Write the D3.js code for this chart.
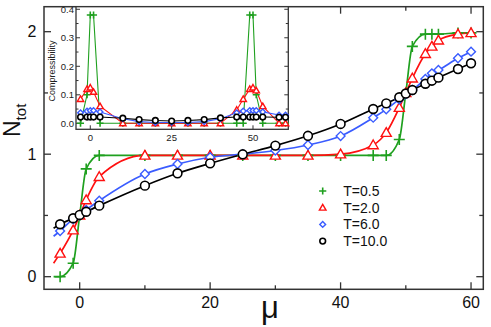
<!DOCTYPE html>
<html>
<head>
<meta charset="utf-8">
<script src="https://cdn.jsdelivr.net/npm/d3@7"></script>
<style>
  html, body { margin: 0; padding: 0; background: #fff; }
  svg { display: block; font-family: "Liberation Sans", Arial, Helvetica, sans-serif; }
</style>
</head>
<body>
<div id="chart"></div>
<script>
// N_tot vs mu at four temperatures, with compressibility inset.

const MU = [-3, -1, 0, 1, 3, 10, 15, 20, 25, 30, 35, 40, 45, 47, 49, 50, 51, 53, 54, 55, 58, 60];

const N_T05  = [0.0, 0.11, 0.5, 0.88, 0.99, 0.99, 0.99, 0.99, 0.99, 0.99, 0.99, 0.99, 0.99, 0.99, 1.12, 1.5, 1.88, 1.98, 1.98, 1.98, 1.99, 1.99];
const N_T20  = [0.19, 0.38, 0.5, 0.626, 0.816, 0.99, 0.99, 0.99, 0.99, 0.99, 0.99, 1.0, 1.075, 1.176, 1.38, 1.5, 1.62, 1.82, 1.88, 1.93, 1.98, 1.99];
const N_T60  = [0.373, 0.47, 0.5, 0.545, 0.62, 0.838, 0.92, 0.975, 1.0, 1.03, 1.075, 1.148, 1.298, 1.366, 1.448, 1.49, 1.524, 1.614, 1.66, 1.687, 1.783, 1.837];
const N_T100 = [0.428, 0.477, 0.504, 0.53, 0.58, 0.743, 0.844, 0.925, 0.999, 1.07, 1.15, 1.247, 1.369, 1.415, 1.465, 1.495, 1.524, 1.575, 1.6, 1.625, 1.695, 1.742];

// where the fitted curves begin, left of the first marker
const CURVE_START_MU = -4;
const CURVE_START_N = [0.0, 0.11, 0.33, 0.395];

const INSET_MU = [-3, -1, 0, 1, 3, 10, 15, 20, 25, 30, 35, 40, 45, 47, 49, 50, 51, 53, 58, 60];
const K_T05  = [0.0, 0.1, 0.38, 0.38, 0.0, 0.0, 0.0, 0.0, 0.0, 0.0, 0.0, 0.0, 0.0, 0.0, 0.38, 0.38, 0.1, 0.0, 0.0, 0.0];
const K_T20  = [0.085, 0.12, 0.125, 0.11, 0.06, 0.0, 0.0, 0.0, 0.0, 0.0, 0.0, 0.0, 0.047, 0.085, 0.12, 0.125, 0.115, 0.06, 0.0, 0.0];
const K_T60  = [0.037, 0.043, 0.045, 0.045, 0.04, 0.016, 0.006, 0.003, 0.003, 0.003, 0.006, 0.016, 0.037, 0.043, 0.045, 0.045, 0.045, 0.04, 0.029, 0.029];
const K_T100 = [0.022, 0.022, 0.022, 0.022, 0.022, 0.018, 0.013, 0.01, 0.008, 0.01, 0.013, 0.019, 0.022, 0.022, 0.022, 0.022, 0.022, 0.022, 0.021, 0.021];

const SERIES = [
  { label: "T=0.5",  color: "#1fa01f", symbol: "cross",    n: N_T05,  k: K_T05 },
  { label: "T=2.0",  color: "#ff1010", symbol: "triangle", n: N_T20,  k: K_T20 },
  { label: "T=6.0",  color: "#3a5cff", symbol: "diamond",  n: N_T60,  k: K_T60 },
  { label: "T=10.0", color: "#000000", symbol: "circle",   n: N_T100, k: K_T100 },
];

const X_TICKS = [0, 20, 40, 60];
const Y_TICKS = [0, 1, 2];
const INSET_X_TICKS = [0, 25, 50];
const INSET_Y_TICKS = [0, 0.1, 0.2, 0.3, 0.4];

// ── Layout ───────────────────────────────────────────────────────────────────

const W = 491, H = 327;
const M = { left: 44, right: 483.3, top: 6.7, bottom: 289.3 };
const IN = { left: 76, right: 288.3, top: 6.7, bottom: 129.3 };

const x = d3.scaleLinear().domain([-5.47, 61.88]).range([M.left, M.right]);
const y = d3.scaleLinear().domain([-0.103, 2.204]).range([M.bottom, M.top]);
const ix = d3.scaleLinear().domain([-4.39, 60.85]).range([IN.left, IN.right]);
const iy = d3.scaleLinear().domain([-0.021, 0.409]).range([IN.bottom, IN.top]);

const svg = d3.select("#chart").append("svg").attr("width", W).attr("height", H);

svg.append("defs").append("clipPath").attr("id", "main-clip")
  .append("rect").attr("x", M.left).attr("y", M.top)
  .attr("width", M.right - M.left).attr("height", M.bottom - M.top);

// marker drawing: hollow symbols with white fill
function marker(sel, kind, color, s) {
  if (kind === "cross") {
    sel.append("path")
      .attr("d", `M${-s},0H${s}M0,${-s}V${s}`)
      .attr("stroke", color).attr("stroke-width", 1.6).attr("fill", "none");
  } else if (kind === "triangle") {
    sel.append("path")
      .attr("d", d3.symbol(d3.symbolTriangle, s * s * 1.45)())
      .attr("transform", `translate(0,${s * 0.15})`)
      .attr("stroke", color).attr("stroke-width", 1.4).attr("fill", "#fff");
  } else if (kind === "diamond") {
    sel.append("path")
      .attr("d", d3.symbol(d3.symbolSquare, s * s * 1.3)())
      .attr("transform", "rotate(45)")
      .attr("stroke", color).attr("stroke-width", 1.4).attr("fill", "#fff");
  } else {
    sel.append("circle").attr("r", s * 0.8)
      .attr("stroke", color).attr("stroke-width", 1.6).attr("fill", "#fff");
  }
}

// ── Main axes ────────────────────────────────────────────────────────────────

const axisColor = "#333";
const frame = svg.append("g");
frame.append("rect")
  .attr("x", M.left).attr("y", M.top)
  .attr("width", M.right - M.left).attr("height", M.bottom - M.top)
  .attr("fill", "none").attr("stroke", axisColor).attr("stroke-width", 1.5);

d3.range(0, 61, 10).forEach(v => {
  const len = v % 20 === 0 ? 7 : 4;
  frame.append("line").attr("x1", x(v)).attr("x2", x(v))
    .attr("y1", M.bottom).attr("y2", M.bottom - len).attr("stroke", axisColor).attr("stroke-width", 1.3);
  frame.append("line").attr("x1", x(v)).attr("x2", x(v))
    .attr("y1", M.top).attr("y2", M.top + len).attr("stroke", axisColor).attr("stroke-width", 1.3);
});
d3.range(0, 2.01, 0.5).forEach(v => {
  const len = Number.isInteger(v) ? 7 : 4;
  frame.append("line").attr("x1", M.left).attr("x2", M.left + len)
    .attr("y1", y(v)).attr("y2", y(v)).attr("stroke", axisColor).attr("stroke-width", 1.3);
  frame.append("line").attr("x1", M.right).attr("x2", M.right - len)
    .attr("y1", y(v)).attr("y2", y(v)).attr("stroke", axisColor).attr("stroke-width", 1.3);
});

frame.selectAll(".xt").data(X_TICKS).join("text")
  .attr("x", d => x(d)).attr("y", 308).attr("text-anchor", "middle")
  .style("font-size", "16px").style("fill", "#111").text(d => d);
frame.selectAll(".yt").data(Y_TICKS).join("text")
  .attr("x", 36.5).attr("y", d => y(d)).attr("dy", "0.36em").attr("text-anchor", "end")
  .style("font-size", "16px").style("fill", "#111").text(d => d);

svg.append("text").attr("x", 270).attr("y", 318).attr("text-anchor", "middle")
  .style("font-size", "31px").style("fill", "#111").text("μ");

const ylab = svg.append("text").attr("transform", "translate(20,137) rotate(-90)")
  .style("font-size", "23px").style("fill", "#111");
ylab.append("tspan").text("N");
ylab.append("tspan").attr("dy", 6).style("font-size", "15px").text("tot");

// ── Main curves and markers ──────────────────────────────────────────────────

const plot = svg.append("g").attr("clip-path", "url(#main-clip)");
const line = d3.line().x(d => x(d[0])).y(d => y(d[1])).curve(d3.curveMonotoneX);

SERIES.forEach((s, i) => {
  const pts = [[CURVE_START_MU, CURVE_START_N[i]], ...MU.map((m, j) => [m, s.n[j]])];
  plot.append("path").attr("d", line(pts))
    .attr("fill", "none").attr("stroke", s.color).attr("stroke-width", 1.7);
});
SERIES.forEach(s => {
  MU.forEach((m, j) => {
    const g = plot.append("g").attr("transform", `translate(${x(m)},${y(s.n[j])})`);
    marker(g, s.symbol, s.color, 5.5);
  });
});

// ── Legend ───────────────────────────────────────────────────────────────────

SERIES.forEach((s, i) => {
  const cy = 191 + i * 16.7;
  const g = svg.append("g").attr("transform", `translate(322.7,${cy})`);
  marker(g, s.symbol, s.color, 3.6);
  svg.append("text").attr("x", 343.3).attr("y", cy).attr("dy", "0.36em")
    .style("font-size", "14px").style("fill", "#111").text(s.label);
});

// ── Inset ────────────────────────────────────────────────────────────────────

const inset = svg.append("g");
inset.append("rect")
  .attr("x", IN.left).attr("y", IN.top)
  .attr("width", IN.right - IN.left).attr("height", IN.bottom - IN.top)
  .attr("fill", "#fff").attr("stroke", axisColor).attr("stroke-width", 1.3);

d3.range(0, 0.401, 0.05).forEach((v, i) => {
  const len = i % 2 === 0 ? 4 : 2.5;
  inset.append("line").attr("x1", IN.left).attr("x2", IN.left + len)
    .attr("y1", iy(v)).attr("y2", iy(v)).attr("stroke", axisColor).attr("stroke-width", 1);
  inset.append("line").attr("x1", IN.right).attr("x2", IN.right - len)
    .attr("y1", iy(v)).attr("y2", iy(v)).attr("stroke", axisColor).attr("stroke-width", 1);
});
INSET_X_TICKS.forEach(v => {
  inset.append("line").attr("x1", ix(v)).attr("x2", ix(v))
    .attr("y1", IN.bottom).attr("y2", IN.bottom - 4).attr("stroke", axisColor).attr("stroke-width", 1);
});

inset.selectAll(".ixt").data(INSET_X_TICKS).join("text")
  .attr("x", d => ix(d)).attr("y", 140.5).attr("text-anchor", "middle")
  .style("font-size", "9.5px").style("fill", "#222").text(d => d);
inset.selectAll(".iyt").data(INSET_Y_TICKS).join("text")
  .attr("x", 74).attr("y", d => iy(d)).attr("dy", "0.36em").attr("text-anchor", "end")
  .style("font-size", "9.5px").style("fill", "#222").text(d => d3.format(".1f")(d));

inset.append("text").attr("transform", `translate(55,${71}) rotate(-90)`)
  .attr("text-anchor", "middle").style("font-size", "9px").style("fill", "#222")
  .text("Compressibility");

const iline = d3.line().x(d => ix(d[0])).y(d => iy(d[1]));
SERIES.forEach(s => {
  const pts = INSET_MU.map((m, j) => [m, s.k[j]]);
  inset.append("path").attr("d", iline(pts))
    .attr("fill", "none").attr("stroke", s.color).attr("stroke-width", 1.1);
});
SERIES.forEach(s => {
  INSET_MU.forEach((m, j) => {
    const g = inset.append("g").attr("transform", `translate(${ix(m)},${iy(s.k[j])})`);
    marker(g, s.symbol, s.color, 3.5);
  });
});
</script>
</body>
</html>
